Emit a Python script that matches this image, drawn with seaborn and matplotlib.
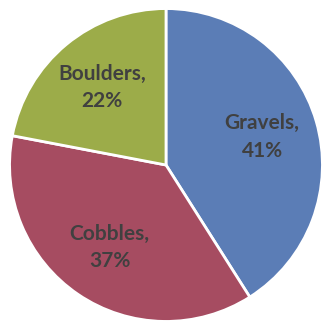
import matplotlib
matplotlib.use("Agg")
import matplotlib.pyplot as plt
import seaborn as sns

# data
categories = ["Gravels", "Cobbles", "Boulders"]
shares = [41, 37, 22]
colors = ["#5b7db6", "#a64c61", "#9cac49"]

sns.set_theme(style="white")
plt.rcParams["font.family"] = ["Lato", "DejaVu Sans"]

fig = plt.figure(figsize=(3.23, 3.28), dpi=100)
ax = fig.add_axes([8 / 323, 5 / 328, 316 / 323, 316 / 328])

labels = [f"{c},\n{v}%" for c, v in zip(categories, shares)]
wedges, texts = ax.pie(shares, labels=labels, colors=sns.color_palette(colors),
                       startangle=90, counterclock=False, labeldistance=0.64,
                       wedgeprops=dict(edgecolor="white", linewidth=2),
                       textprops=dict(fontsize=15, fontweight="bold",
                                      color="#404040", ha="center",
                                      va="center", linespacing=1.45))
ax.set_xlim(-1.01, 1.01)
ax.set_ylim(-1.01, 1.01)
ax.set_aspect("equal")
ax.axis("off")

fig.savefig("out.png", dpi=100)
